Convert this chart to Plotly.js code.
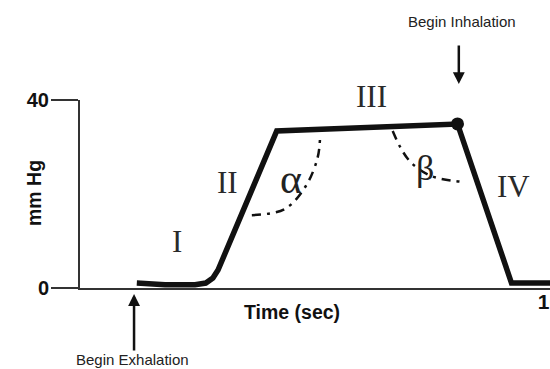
<!DOCTYPE html>
<html><head><meta charset="utf-8">
<script src="https://cdn.plot.ly/plotly-3.0.1.min.js"></script>
<style>html,body{margin:0;padding:0;background:#fff}</style>
</head><body><div id="chart" style="width:550px;height:369px"></div>
<script>
// Capnogram waveform (time in s, CO2 in mm Hg)
const timeSec = [1.21, 1.81, 2.45, 2.68, 2.83, 2.94, 4.19, 8.04, 9.19, 10.1];
const co2MmHg = [1.06, 0.70, 0.70, 1.06, 2.13, 3.83, 33.4, 34.9, 1.06, 1.06];
// End-tidal point
const endTidalTime = [8.04];
const endTidalCo2 = [34.9];
// Alpha angle marker arc
const alphaArcTime = [3.66, 4.36, 4.81, 5.06, 5.11];
const alphaArcCo2 = [15.5, 16.8, 21.7, 27.7, 31.5];
// Beta angle marker arc
const betaArcTime = [6.66, 6.83, 7.06, 7.49, 8.13];
const betaArcCo2 = [33.4, 29.8, 26.6, 23.8, 22.6];
// Ticks
const yTickVals = [0, 40];
const yTickText = ['0', '40'];
const xTickVals = [10];
const xTickText = ['10'];

const ink = '#111';
const traces = [
  {x: alphaArcTime, y: alphaArcCo2, mode: 'lines', line: {shape: 'spline', color: ink, width: 2.5, dash: '9px,6px,3px,6px'}, hoverinfo: 'skip'},
  {x: betaArcTime, y: betaArcCo2, mode: 'lines', line: {shape: 'spline', color: ink, width: 2.5, dash: '9px,6px,3px,6px'}, hoverinfo: 'skip'},
  {x: timeSec, y: co2MmHg, mode: 'lines', line: {color: ink, width: 5.5, shape: 'linear'}},
  {x: endTidalTime, y: endTidalCo2, mode: 'markers', marker: {color: ink, size: 13}, cliponaxis: false}
];

const serif = {family: 'Liberation Serif, Times New Roman, serif', size: 31, color: '#2a2a2a'};
const greek = {family: 'Liberation Serif, Times New Roman, serif', size: 42, color: '#222'};
const sans = {family: 'Liberation Sans, Arial, sans-serif', size: 15, color: '#222'};
const bold = {family: 'Liberation Sans, Arial, sans-serif', size: 19.5, color: '#111', weight: 'bold'};

function paperNote(x, y, text, font, extra) {
  return Object.assign({xref: 'paper', yref: 'paper', x: x, y: y, text: text, font: font,
    showarrow: false, xanchor: 'center', yanchor: 'middle'}, extra || {});
}
function arrowNote(x, y, ay) {
  return {xref: 'paper', yref: 'paper', x: x, y: y, ax: 0, ay: ay, text: '', showarrow: true,
    arrowhead: 2, arrowsize: 0.95, arrowwidth: 2.5, arrowcolor: ink, standoff: 0, startstandoff: 0};
}

const layout = {
  width: 550, height: 369,
  margin: {l: 80, r: 0, t: 100, b: 81, pad: 0},
  paper_bgcolor: '#fff', plot_bgcolor: '#fff',
  showlegend: false,
  xaxis: {range: [0, 10.01], showgrid: false, zeroline: false, showline: true, linecolor: '#333', linewidth: 2,
          tickmode: 'array', tickvals: xTickVals, ticktext: xTickText, ticks: '', ticklabeloverflow: 'allow',
          ticklabelstandoff: -6,
          tickfont: {family: 'Liberation Sans, Arial, sans-serif', size: 21, color: '#111', weight: 'bold'}, fixedrange: true},
  yaxis: {range: [0, 40], showgrid: false, zeroline: false, showline: true, linecolor: '#333', linewidth: 2,
          tickmode: 'array', tickvals: yTickVals, ticktext: yTickText, ticks: 'outside', ticklen: 27, tickwidth: 2, tickcolor: '#333',
          ticklabelstandoff: -2,
          tickfont: {family: 'Liberation Sans, Arial, sans-serif', size: 20, color: '#111', weight: 'bold'}, fixedrange: true},
  annotations: [
    {x: 2.06, y: 10.0, text: 'I', showarrow: false, font: serif},
    {x: 3.15, y: 22.5, text: 'II', showarrow: false, font: serif},
    {x: 9.23, y: 21.7, text: 'IV', showarrow: false, font: serif},
    {x: 4.49, y: 23.2, text: 'α', showarrow: false, font: greek},
    {x: 7.34, y: 25.5, text: 'β', showarrow: false, font: {family: 'Liberation Serif, serif', size: 36, color: '#222'}},
    paperNote(0.621, 1.016, 'III', serif),
    paperNote(0.813, 1.420, 'Begin Inhalation', sans),
    paperNote(0.111, -0.378, 'Begin Exhalation', sans),
    paperNote(0.452, -0.128, 'Time (sec)', bold),
    paperNote(-0.098, 0.505, 'mm Hg', {family: 'Liberation Sans, Arial, sans-serif', size: 19.5, color: '#111', weight: 'bold'}, {textangle: -90}),
    arrowNote(0.806, 1.085, -40),
    arrowNote(0.115, -0.032, 58)
  ]
};
Plotly.newPlot('chart', traces, layout, {displayModeBar: false, staticPlot: true});
</script></body></html>
